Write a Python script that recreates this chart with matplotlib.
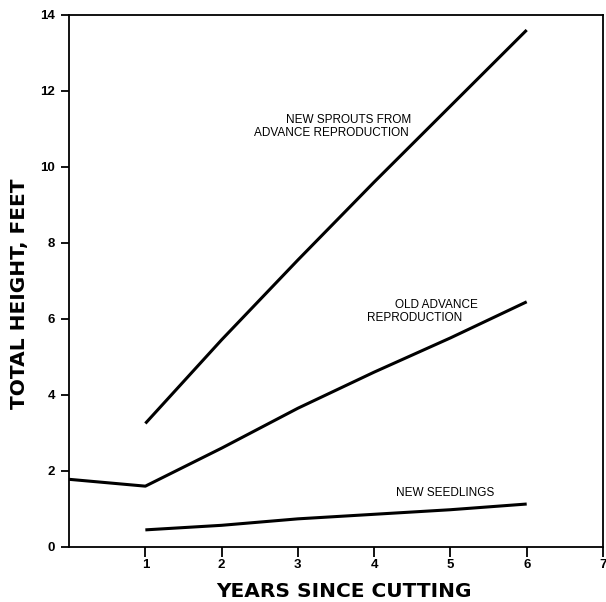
import matplotlib
matplotlib.use("Agg")
import matplotlib.pyplot as plt

# Height growth after cutting, by reproduction source
years_old = [0, 1, 2, 3, 4, 5, 6]
old_advance = [1.78, 1.6, 2.6, 3.65, 4.6, 5.5, 6.45]

years_new = [1, 2, 3, 4, 5, 6]
new_sprouts = [3.25, 5.45, 7.55, 9.6, 11.6, 13.6]
new_seedlings = [0.45, 0.57, 0.74, 0.86, 0.98, 1.13]

x_ticks = [1, 2, 3, 4, 5, 6, 7]
y_ticks = [0, 2, 4, 6, 8, 10, 12, 14]


def main():
    plt.rcParams["font.family"] = ["Liberation Sans", "DejaVu Sans"]
    fig = plt.figure(figsize=(6.06, 6.02), dpi=100)
    ax = fig.add_axes([0.114, 0.0914, 0.881, 0.884])

    line_kw = dict(color="black", linewidth=2.2, solid_capstyle="butt")
    ax.plot(years_new, new_sprouts, **line_kw)
    ax.plot(years_old, old_advance, **line_kw)
    ax.plot(years_new, new_seedlings, **line_kw)

    ax.set_xlim(0, 7)
    ax.set_ylim(0, 14)
    ax.set_xticks(x_ticks)
    ax.set_yticks(y_ticks)
    ax.tick_params(axis="x", direction="out", length=7, width=1.3, pad=2,
                   labelsize=9.5)
    ax.tick_params(axis="y", direction="out", length=6, width=1.3, pad=4,
                   labelsize=9.5)
    for lbl in ax.get_xticklabels() + ax.get_yticklabels():
        lbl.set_fontweight("bold")
    for sp in ax.spines.values():
        sp.set_linewidth(1.3)

    label_kw = dict(fontsize=14.5, fontweight="bold", family="DejaVu Sans")
    ax.set_xlabel("YEARS SINCE CUTTING", **label_kw)
    ax.set_ylabel("TOTAL HEIGHT, FEET", **label_kw)
    ax.xaxis.set_label_coords(0.515, -0.066)
    ax.yaxis.set_label_coords(-0.075, 0.475)

    txt = dict(fontsize=8.5, color="black", ha="right", va="center")
    ax.text(4.49, 11.22, "NEW SPROUTS FROM", **txt)
    ax.text(4.45, 10.9, "ADVANCE REPRODUCTION", **txt)
    ax.text(5.36, 6.37, "OLD ADVANCE", **txt)
    ax.text(5.16, 6.03, "REPRODUCTION", **txt)
    ax.text(5.58, 1.42, "NEW SEEDLINGS", **txt)

    fig.savefig("out.png", dpi=100)


if __name__ == "__main__":
    main()
